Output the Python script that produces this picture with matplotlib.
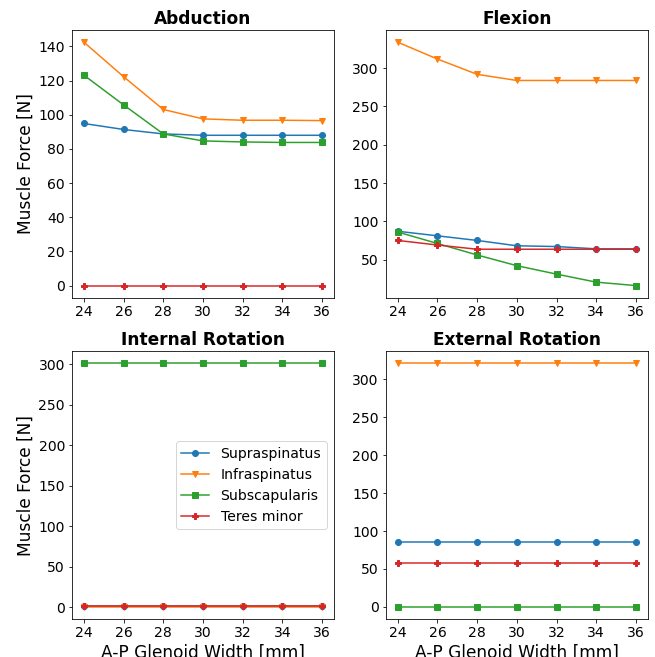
import matplotlib
matplotlib.use("Agg")
import matplotlib.pyplot as plt

widths = [24, 26, 28, 30, 32, 34, 36]
muscles = ["Supraspinatus", "Infraspinatus", "Subscapularis", "Teres minor"]
markers = ["o", "v", "s", "P"]
titles = ["Abduction", "Flexion", "Internal Rotation", "External Rotation"]

abduction = {
    "Supraspinatus": [94.9, 91.4, 88.8, 88.0, 88.0, 88.0, 88.0],
    "Infraspinatus": [142.5, 122.3, 103.1, 97.6, 96.8, 96.8, 96.6],
    "Subscapularis": [123.2, 105.8, 88.8, 84.7, 84.1, 83.8, 83.8],
    "Teres minor": [0, 0, 0, 0, 0, 0, 0],
}
flexion = {
    "Supraspinatus": [87, 81, 75, 68, 67, 64, 64],
    "Infraspinatus": [334, 312, 292, 284, 284, 284, 284],
    "Subscapularis": [86, 71, 56, 42, 31, 20.5, 16],
    "Teres minor": [75, 69, 63.5, 63.5, 63.5, 63.5, 63.5],
}
internal = {
    "Supraspinatus": [2, 2, 2, 2, 2, 2, 2],
    "Infraspinatus": [0.5, 0.5, 0.5, 0.5, 0.5, 0.5, 0.5],
    "Subscapularis": [301, 301, 301, 301, 301, 301, 301],
    "Teres minor": [2, 2, 2, 2, 2, 2, 2],
}
external = {
    "Supraspinatus": [86, 86, 86, 86, 86, 86, 86],
    "Infraspinatus": [321, 321, 321, 321, 321, 321, 321],
    "Subscapularis": [0, 0, 0, 0, 0, 0, 0],
    "Teres minor": [58.5, 58.5, 58.5, 58.5, 58.5, 58.5, 58.5],
}
datasets = [abduction, flexion, internal, external]

DPI = 72
fig, axes = plt.subplots(2, 2, figsize=(655 / DPI, 657 / DPI), dpi=DPI)
plt.subplots_adjust(left=0.1099, right=0.989, top=0.9543, bottom=0.0578,
                    wspace=0.198, hspace=0.2)

for i, (ax, data, title) in enumerate(zip(axes.flat, datasets, titles)):
    for m, mk in zip(muscles, markers):
        ax.plot(widths, data[m], marker=mk, markersize=6, label=m)
    ax.set_title(title, fontsize=17, fontweight="bold")
    ax.set_xticks(widths)
    ax.tick_params(labelsize=14)
    if i % 2 == 0:
        ax.set_ylabel("Muscle Force [N]", fontsize=17)
    if i >= 2:
        ax.set_xlabel("A-P Glenoid Width [mm]", fontsize=17)

axes[1, 0].legend(loc="center right", fontsize=14)

fig.savefig("out.png", dpi=DPI)
